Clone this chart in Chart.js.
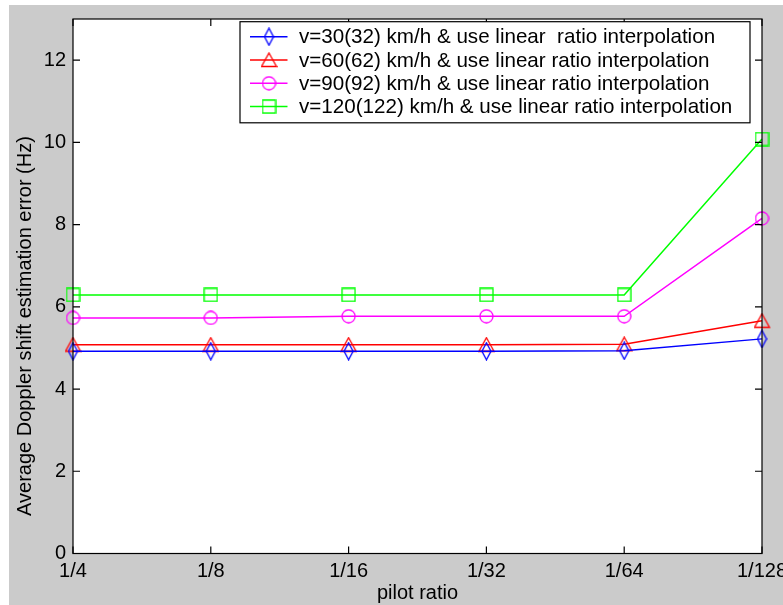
<!DOCTYPE html>
<html>
<head>
<meta charset="utf-8">
<script src="https://cdn.jsdelivr.net/npm/chart.js@4/dist/chart.umd.min.js"></script>
<style>
  html, body { margin: 0; padding: 0; background: #ffffff; }
  #plot { display: block; }
</style>
</head>
<body>
<canvas id="plot" width="783" height="605"></canvas>
<script>
// Pilot ratios on the x axis
const categories = ['1/4', '1/8', '1/16', '1/32', '1/64', '1/128'];

// Average Doppler shift estimation error (Hz) for each speed
const v30 = [4.92, 4.92, 4.92, 4.92, 4.93, 5.22];
const v60 = [5.08, 5.08, 5.08, 5.08, 5.09, 5.66];
const v90 = [5.73, 5.73, 5.77, 5.77, 5.77, 8.15];
const v120 = [6.29, 6.29, 6.29, 6.29, 6.29, 10.08];

const seriesLabels = [
  'v=30(32) km/h & use linear  ratio interpolation',
  'v=60(62) km/h & use linear ratio interpolation',
  'v=90(92) km/h & use linear ratio interpolation',
  'v=120(122) km/h & use linear ratio interpolation'
];

const yTicks = [0, 2, 4, 6, 8, 10, 12];

const FONT = '"Liberation Sans", Arial, Helvetica, sans-serif';
const FONT_SIZE = 20;

// Hollow marker glyphs drawn once into small canvases and used as point styles
function makeMarker(shape, color) {
  const dims = { diamond: [11, 19], triangle: [17, 16], circle: [15, 15], square: [15, 15] }[shape];
  const c = document.createElement('canvas');
  c.width = dims[0];
  c.height = dims[1];
  const g = c.getContext('2d');
  g.strokeStyle = color;
  g.lineWidth = 1.3;
  const w = c.width, h = c.height;
  g.beginPath();
  if (shape === 'diamond') {
    g.moveTo(w / 2, 1); g.lineTo(w - 1, h / 2); g.lineTo(w / 2, h - 1); g.lineTo(1, h / 2); g.closePath();
  } else if (shape === 'triangle') {
    g.moveTo(w / 2, 1); g.lineTo(w - 1, h - 1.5); g.lineTo(1, h - 1.5); g.closePath();
  } else if (shape === 'circle') {
    g.arc(w / 2, h / 2, w / 2 - 1, 0, Math.PI * 2);
  } else {
    g.rect(1, 1, w - 2, h - 2);
  }
  g.stroke();
  return c;
}

function series(label, data, color, shape) {
  return {
    label: label,
    data: data,
    borderColor: color,
    backgroundColor: color,
    borderWidth: 1.5,
    pointStyle: makeMarker(shape, color),
    pointRadius: 7,
    pointHoverRadius: 7,
    tension: 0,
    fill: false
  };
}

// Grey figure background, white axes box
const backdrop = {
  id: 'backdrop',
  beforeDraw(chart) {
    const { ctx, chartArea: a } = chart;
    ctx.save();
    ctx.fillStyle = '#cbcbcb';
    ctx.fillRect(9, 5, chart.width - 9, chart.height - 5);
    ctx.fillStyle = '#ffffff';
    ctx.fillRect(a.left, a.top, a.right - a.left, a.bottom - a.top);
    ctx.restore();
  }
};

// Box frame with inward ticks on all four sides, plus the rotated y title
const frame = {
  id: 'frame',
  afterDatasetsDraw(chart) {
    const { ctx, chartArea: a, scales } = chart;
    ctx.save();
    ctx.strokeStyle = '#000000';
    ctx.lineWidth = 1.2;
    ctx.strokeRect(a.left, a.top, a.right - a.left, a.bottom - a.top);
    const tl = 7;
    ctx.beginPath();
    scales.x.ticks.forEach((t, i) => {
      const x = scales.x.getPixelForTick(i);
      ctx.moveTo(x, a.bottom); ctx.lineTo(x, a.bottom - tl);
      ctx.moveTo(x, a.top); ctx.lineTo(x, a.top + tl);
    });
    scales.y.ticks.forEach(t => {
      const y = scales.y.getPixelForValue(t.value);
      ctx.moveTo(a.left, y); ctx.lineTo(a.left + tl, y);
      ctx.moveTo(a.right, y); ctx.lineTo(a.right - tl, y);
    });
    ctx.stroke();

    ctx.fillStyle = '#000000';
    ctx.font = FONT_SIZE + 'px ' + FONT;
    ctx.textAlign = 'center';
    ctx.textBaseline = 'middle';
    ctx.translate(25, 326);
    ctx.rotate(-Math.PI / 2);
    ctx.fillText('Average Doppler shift estimation error (Hz)', 0, 0);
    ctx.restore();
  }
};

// Legend box inside the axes, each entry a short line with its marker
const legendBox = {
  id: 'legendBox',
  afterDraw(chart) {
    const { ctx } = chart;
    const box = { left: 240, top: 21.7, right: 750, bottom: 122.8 };
    ctx.save();
    ctx.fillStyle = '#ffffff';
    ctx.fillRect(box.left, box.top, box.right - box.left, box.bottom - box.top);
    ctx.strokeStyle = '#000000';
    ctx.lineWidth = 1.2;
    ctx.strokeRect(box.left, box.top, box.right - box.left, box.bottom - box.top);
    ctx.font = '20.6px ' + FONT;
    ctx.textAlign = 'left';
    ctx.textBaseline = 'middle';
    chart.data.datasets.forEach((ds, i) => {
      const y = 36.7 + i * 23.3;
      ctx.strokeStyle = ds.borderColor;
      ctx.lineWidth = 1.5;
      ctx.beginPath();
      ctx.moveTo(250, y);
      ctx.lineTo(287.5, y);
      ctx.stroke();
      const m = ds.pointStyle;
      ctx.drawImage(m, 269 - m.width / 2, y - m.height / 2);
      ctx.fillStyle = '#000000';
      ctx.fillText(ds.label, 299, y + 1);
    });
    ctx.restore();
  }
};

Chart.defaults.font.family = FONT;
Chart.defaults.font.size = FONT_SIZE;
Chart.defaults.color = '#000000';

new Chart(document.getElementById('plot'), {
  type: 'line',
  data: {
    labels: categories,
    datasets: [
      series(seriesLabels[0], v30, '#0000ff', 'diamond'),
      series(seriesLabels[1], v60, '#ff0000', 'triangle'),
      series(seriesLabels[2], v90, '#ff00ff', 'circle'),
      series(seriesLabels[3], v120, '#00ff00', 'square')
    ]
  },
  options: {
    responsive: false,
    animation: false,
    events: [],
    layout: { padding: { left: 0, right: 21, top: 10.3, bottom: 0 } },
    plugins: {
      legend: { display: false },
      tooltip: { enabled: false }
    },
    scales: {
      x: {
        type: 'category',
        offset: false,
        grid: { display: false, drawTicks: false },
        border: { display: false },
        ticks: { color: '#000000', padding: 6, maxRotation: 0, autoSkip: false },
        title: { display: true, text: 'pilot ratio', color: '#000000', padding: { top: 0, bottom: 0 } },
        afterFit(scale) {
          scale.height = 51.5;
          scale.paddingLeft = 0;
          scale.paddingRight = 0;
        }
      },
      y: {
        type: 'linear',
        min: 0,
        max: 13,
        grid: { display: false, drawTicks: false },
        border: { display: false },
        ticks: { color: '#000000', padding: 7 },
        afterBuildTicks(scale) {
          scale.ticks = yTicks.map(v => ({ value: v }));
        },
        afterFit(scale) {
          scale.width = 73;
        }
      }
    }
  },
  plugins: [backdrop, frame, legendBox]
});
</script>
</body>
</html>
